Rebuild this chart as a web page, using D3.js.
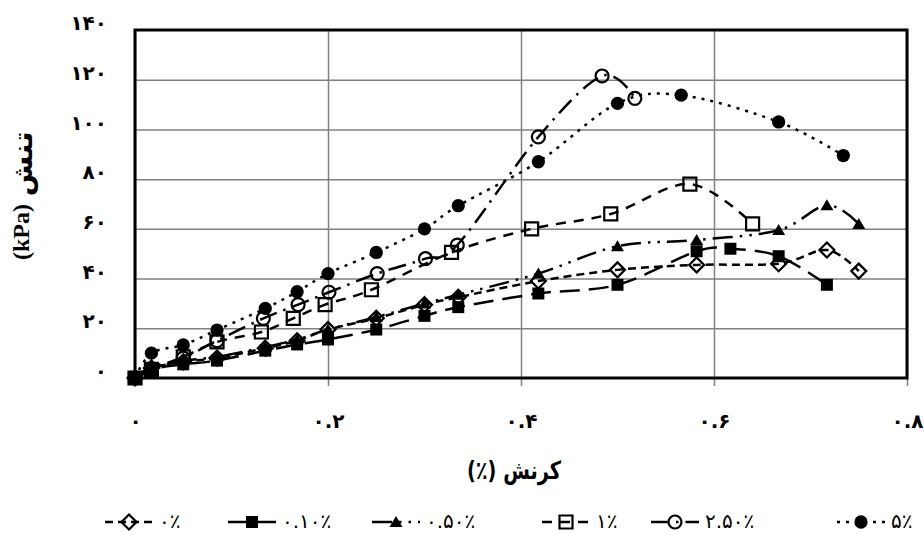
<!DOCTYPE html>
<html>
<head>
<meta charset="utf-8">
<script src="https://cdn.jsdelivr.net/npm/d3@7"></script>
<style>
body { margin: 0; background: #fff; }
</style>
</head>
<body>
<script>
// strain (%) / stress (kPa), one pair per additive content
var strain_0   = [0, 0.017, 0.05, 0.085, 0.135, 0.168, 0.2, 0.25, 0.3, 0.335, 0.418, 0.5, 0.582, 0.667, 0.717, 0.75];
var stress_0   = [0, 4, 6.5, 8, 12, 15, 19.5, 24, 29.5, 32.5, 39, 43.5, 45.5, 46, 51.5, 43];
var strain_01  = [0, 0.017, 0.05, 0.085, 0.135, 0.168, 0.2, 0.25, 0.3, 0.335, 0.418, 0.5, 0.582, 0.617, 0.667, 0.717];
var stress_01  = [0, 3.5, 5.5, 7, 11, 13.5, 15.5, 19.5, 25, 28.5, 34, 37.5, 51, 52, 49, 37.5];
var strain_05  = [0, 0.017, 0.05, 0.085, 0.135, 0.168, 0.2, 0.25, 0.3, 0.335, 0.418, 0.5, 0.582, 0.667, 0.717, 0.75];
var stress_05  = [0, 4.5, 7, 8.5, 12.5, 15.5, 19.5, 24.5, 30, 33.5, 42, 53, 55.5, 59.5, 69.5, 62];
var strain_1   = [0, 0.017, 0.05, 0.085, 0.131, 0.164, 0.197, 0.245, 0.328, 0.411, 0.493, 0.575, 0.64];
var stress_1   = [0, 3.5, 8.5, 14.5, 18.5, 24, 29.5, 35.5, 50.5, 60, 66, 78, 62];
var strain_25  = [0, 0.017, 0.05, 0.085, 0.133, 0.169, 0.201, 0.251, 0.301, 0.334, 0.418, 0.484, 0.518];
var stress_25  = [0, 3, 8, 15, 24, 29.5, 34.5, 42, 48, 53.5, 97, 121.5, 112.5];
var strain_5   = [0, 0.017, 0.05, 0.085, 0.135, 0.168, 0.2, 0.25, 0.3, 0.335, 0.418, 0.5, 0.566, 0.667, 0.734];
var stress_5   = [0, 10, 13.3, 19.3, 28, 34.7, 42, 50.5, 60, 69.3, 87, 110.5, 113.8, 103, 89.5];

var seriesNames = ["۰٪", "۰.۱۰٪", "۰.۵۰٪", "۱٪", "۲.۵۰٪", "۵٪"];
var yTicks = [0, 20, 40, 60, 80, 100, 120, 140];
var xTicks = [0, 0.2, 0.4, 0.6, 0.8];
var xTitle = "کرنش (٪)";
var yTitleFa = "تنش";
var yTitleUnit = "(kPa)";

var series = [
  { name: seriesNames[0], x: strain_0,  y: stress_0,  dash: "8,5",              marker: "diamond" },
  { name: seriesNames[1], x: strain_01, y: stress_01, dash: "20,9",             marker: "square" },
  { name: seriesNames[2], x: strain_05, y: stress_05, dash: "20,7,2.5,7,2.5,7", marker: "triangle" },
  { name: seriesNames[3], x: strain_1,  y: stress_1,  dash: "10,8",             marker: "osquare" },
  { name: seriesNames[4], x: strain_25, y: stress_25, dash: "18,7,2.5,7",       marker: "circle" },
  { name: seriesNames[5], x: strain_5,  y: stress_5,  dash: "3,6",              marker: "dot" }
];

function fa(s) {
  return String(s).replace(/[0-9]/g, function (d) { return "۰۱۲۳۴۵۶۷۸۹"[+d]; });
}

var margin = {top: 30, left: 135},
    width = 772,
    height = 348;

var svg = d3.select("body").append("svg")
    .attr("width", 924)
    .attr("height", 535)
    .style("font-family", "'DejaVu Sans', sans-serif");

var g = svg.append("g")
    .attr("transform", "translate(" + margin.left + "," + margin.top + ")");

var x = d3.scaleLinear().domain([0, 0.8]).range([0, width]);
var y = d3.scaleLinear().domain([0, 140]).range([height, 0]);

// grid
var hGrid = g.append("g")
    .call(d3.axisLeft(y).tickValues(yTicks.slice(1, -1)).tickSize(-width).tickFormat(""));
var vGrid = g.append("g")
    .attr("transform", "translate(0," + (height + 8) + ")")
    .call(d3.axisBottom(x).tickValues(xTicks).tickSize(-(height + 8)).tickFormat(""));
[hGrid, vGrid].forEach(function (a) {
  a.select(".domain").remove();
  a.selectAll("line").attr("stroke", "#808080").attr("stroke-width", 1.5);
});

// tick labels
var yAx = g.append("g")
    .call(d3.axisLeft(y).tickValues(yTicks).tickSize(0).tickPadding(28).tickFormat(fa));
yAx.select(".domain").remove();
yAx.selectAll("text")
    .attr("dy", "-0.02em")
    .attr("font-size", 20)
    .attr("font-weight", "bold")
    .attr("font-family", "'DejaVu Sans', sans-serif")
    .attr("fill", "#000");

var xAx = g.append("g")
    .attr("transform", "translate(0," + height + ")")
    .call(d3.axisBottom(x).tickValues(xTicks).tickSize(0).tickFormat(fa));
xAx.select(".domain").remove();
xAx.selectAll("text")
    .attr("y", 50)
    .attr("dy", 0)
    .attr("font-size", 20)
    .attr("font-weight", "bold")
    .attr("font-family", "'DejaVu Sans', sans-serif")
    .attr("fill", "#000");

// plot frame
g.append("rect")
    .attr("width", width)
    .attr("height", height)
    .attr("fill", "none")
    .attr("stroke", "#000")
    .attr("stroke-width", 3);

// markers
function markerPath(type) {
  switch (type) {
    case "diamond":  return "M0,-7.5L7.5,0L0,7.5L-7.5,0Z";
    case "square":   return "M-6,-6H6V6H-6Z";
    case "osquare":  return "M-6.5,-6.5H6.5V6.5H-6.5Z";
    case "triangle": return "M0,-6L6.5,5H-6.5Z";
    case "circle":   return d3.symbol(d3.symbolCircle, Math.PI * 42)();
    case "dot":      return d3.symbol(d3.symbolCircle, Math.PI * 44)();
  }
}
function isOpen(type) {
  return type == "diamond" || type == "osquare" || type == "circle";
}
function drawMarker(sel, type) {
  sel.attr("d", markerPath(type))
      .attr("fill", isOpen(type) ? "none" : "#000")
      .attr("stroke", isOpen(type) ? "#000" : "none")
      .attr("stroke-width", 2.2);
}

var line = d3.line()
    .x(function (d) { return x(d[0]); })
    .y(function (d) { return y(d[1]); })
    .curve(d3.curveCardinal);

series.forEach(function (s) {
  var pts = s.x.map(function (v, i) { return [v, s.y[i]]; });
  g.append("path")
      .datum(pts)
      .attr("d", line)
      .attr("fill", "none")
      .attr("stroke", "#000")
      .attr("stroke-width", 2.5)
      .attr("stroke-dasharray", s.dash);
  g.selectAll(null)
      .data(pts)
    .enter().append("path")
      .attr("transform", function (d) { return "translate(" + x(d[0]) + "," + y(d[1]) + ")"; })
      .call(drawMarker, s.marker);
});

// axis titles
svg.append("text")
    .attr("x", 514)
    .attr("y", 479)
    .attr("text-anchor", "middle")
    .attr("direction", "rtl")
    .attr("font-size", 25)
    .attr("font-weight", "bold")
    .attr("font-family", "'DejaVu Sans', sans-serif")
    .attr("textLength", 94)
    .attr("lengthAdjust", "spacingAndGlyphs")
    .text(xTitle);

svg.append("text")
    .attr("transform", "translate(29,232) rotate(-90)")
    .attr("text-anchor", "middle")
    .attr("font-size", 24)
    .attr("font-weight", "bold")
    .attr("font-family", "'Liberation Serif', serif")
    .text(yTitleUnit);
svg.append("text")
    .attr("transform", "translate(32,164) rotate(-90) scale(1.1,1)")
    .attr("text-anchor", "middle")
    .attr("font-size", 27)
    .attr("font-weight", "bold")
    .attr("font-family", "'DejaVu Sans', sans-serif")
    .text(yTitleFa);

// legend
var legendX = [105, 228, 372, 542, 651, 837];
var leg = svg.selectAll(".leg")
    .data(series)
  .enter().append("g")
    .attr("class", "leg")
    .attr("transform", function (d, i) { return "translate(" + legendX[i] + ",522)"; });
leg.append("line")
    .attr("x1", 0).attr("x2", 48)
    .attr("stroke", "#000")
    .attr("stroke-width", 2.5)
    .attr("stroke-dasharray", function (d) { return d.dash; });
leg.each(function (d) {
  d3.select(this).append("path")
      .attr("transform", "translate(24,0)")
      .call(drawMarker, d.marker);
});
leg.append("text")
    .attr("x", 54)
    .attr("y", 6)
    .attr("font-size", 20)
    .text(function (d) { return d.name; });
</script>
</body>
</html>
